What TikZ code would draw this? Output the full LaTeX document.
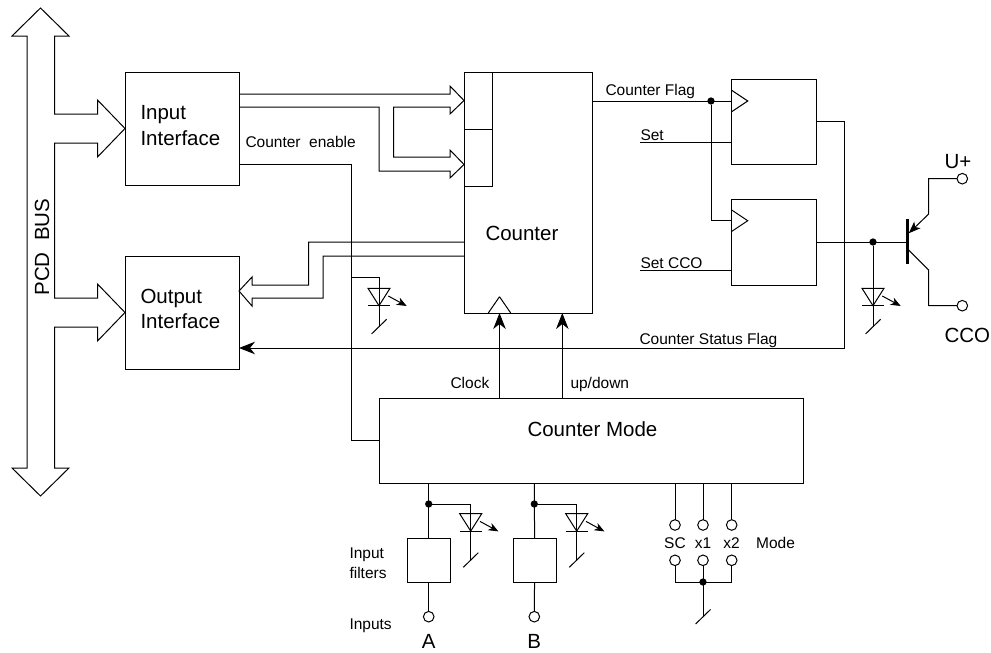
\documentclass[tikz,border=0pt]{standalone}
\usepackage{fontspec}
\setmainfont{Liberation Sans}
\usetikzlibrary{positioning, arrows.meta}

\newcommand{\bigtxt}{\fontsize{20.5}{25.5}\selectfont}
\newcommand{\smalltxt}{\fontsize{15.5}{20}\selectfont}

\tikzset{
  block/.style={rectangle, draw, inner sep=0pt, outer sep=0pt},
  iface/.style={block, minimum width=114pt, minimum height=113pt},
  ffbox/.style={block, minimum width=85.5pt, minimum height=85.7pt},
  filterbox/.style={block, minimum width=43pt, minimum height=43.3pt},
  biglbl/.style={inner sep=0pt, anchor=base west, font=\bigtxt, align=left},
  smalllbl/.style={inner sep=0pt, anchor=base west, font=\smalltxt, align=left},
  term/.style={circle, draw, fill=white, inner sep=0pt, outer sep=0pt, minimum size=10.6pt},
  dot/.style={circle, fill, inner sep=0pt, outer sep=0pt, minimum size=7.3pt},
  bigarrow/.style={-{Stealth[length=16pt, width=12.5pt, inset=5pt]}},
  led/.pic={
    \draw (-11,0) -- (11,0) -- (0,17.4) -- cycle;
    \draw (-11,17.4) -- (11,17.4);
    \draw[-{Stealth[length=10pt, width=8pt, inset=3pt]}] (9.3,7.7) -- (27.7,17.7);
  },
  gnd/.pic={\draw (-7.4,7.3) -- (7.6,-7.3);},
  clk/.pic={\draw (0,-11) -- (16.5,0) -- (0,11);}
}

\begin{document}
\begin{tikzpicture}[x=1pt, y=-1pt, line width=1pt, line join=miter]
\useasboundingbox (0,0) rectangle (991,653);

% Blocks
\node[iface] (input) at (182,128.5) {};
\node[iface, below=71pt of input] (output) {};
\node[block, minimum width=128pt, minimum height=241pt] (counter) at (528,192.5) {};
\node[block, minimum width=28.5pt, minimum height=57pt, anchor=north west] (rega) at (counter.north west) {};
\node[block, minimum width=28.5pt, minimum height=57pt, below=0pt of rega] (regb) {};
\node[block, minimum width=424pt, minimum height=85pt] (mode) at (591,440.5) {};
\node[ffbox] (ffa) at (774,122) {};
\node[ffbox, below=35pt of ffa] (ffb) {};
\node[filterbox] (filtera) at (428.7,560.6) {};
\node[filterbox, right=63pt of filtera] (filterb) {};

% Terminals and junctions
\node[term] (inputa) at (428.7,616.7) {};
\node[term] (inputb) at (534.3,616.7) {};
\node[term] (uplus) at (962.3,178.7) {};
\node[term] (cco) at (962.3,305.7) {};
\node[term] (sctop) at (675,525) {};
\node[term] (xatop) at (703,525) {};
\node[term] (xbtop) at (731.7,525) {};
\node[term] (scbot) at (675,560.3) {};
\node[term] (xabot) at (703,560.3) {};
\node[term] (xbbot) at (731.7,560.3) {};
\node[dot] (flagdot) at (711,101) {};
\node[dot] (outdot) at (873,242) {};
\node[dot] (dota) at (428.7,504) {};
\node[dot] (dotb) at (534.3,504) {};
\node[dot] (modedot) at (703,582) {};

% Fat arrows
\draw (40.5,8) -- (69,36) -- (54.5,36) -- (54.5,114) -- (97.5,114) -- (97.5,100) -- (input.west)
  -- (97.5,157) -- (97.5,143) -- (54.5,143) -- (54.5,298) -- (97.5,298) -- (97.5,284) -- (output.west)
  -- (97.5,341) -- (97.5,327) -- (54.5,327) -- (54.5,468) -- (69,468) -- (40.5,496) -- (12,468)
  -- (27,468) -- (27,36) -- (12,36) -- cycle;
\draw (input.east |- 0,94) -- (450,94) -- (450,86) -- (rega.west |- 0,100.5) -- (450,114) -- (450,107) -- (393.5,107)
  -- (393.5,157) -- (450,157) -- (450,150) -- (regb.west |- 0,164.5) -- (450,178) -- (450,171) -- (379,171)
  -- (379,107) -- (input.east |- 0,107);
\draw (counter.west |- 0,242) -- (308.5,242) -- (308.5,285) -- (252,285) -- (252,277) -- (output.east |- 0,291)
  -- (252,306) -- (252,298) -- (323,298) -- (323,256) -- (counter.west |- 0,256);

% Counter inputs
\draw (499.5,296.7) -- (488.3,313) (499.5,296.7) -- (510.7,313);
\draw[bigarrow] (mode.north -| 499.5,0) -- (counter.south -| 499.5,0);
\draw[bigarrow] (mode.north -| 562.3,0) -- (counter.south -| 562.3,0);

% Signals
\coordinate (ledtop) at (379,288.3);
\coordinate (ledgnd) at (379,326.6);
\draw (input.east |- 0,164) -- (351,164) -- (mode.west -| 351,0) -- (mode.west);
\draw (351,277) -- (379,277) -- (ledgnd);
\draw (counter.east |- flagdot) -- (ffa.west |- flagdot);
\draw (flagdot) |- (ffb.west |- 0,220.7);
\draw (640,142.3) -- (ffa.west |- 0,142.3);
\draw (640,270.3) -- (ffb.west |- 0,270.3);
\draw[bigarrow] (ffa.east |- 0,121) -- (844.7,121) -- (844.7,348) -- (output.east |- 0,348);

% Transistor
\coordinate (basept) at (907.3,242);
\draw (ffb.east |- basept) -- (basept);
\draw[line width=3pt] (907.3,219.3) -- (907.3,264);
\draw[-{Stealth[length=12pt, width=9pt, inset=3pt]}] (uplus) -- (928.7,178.7) -- (928.7,214) -- (908.7,233.3);
\draw (cco) -- (928.7,305.7) -- (928.7,270) -- (908.7,250);

% LEDs
\coordinate (gndout) at (873,326.6);
\coordinate (gnda) at (470.7,560);
\coordinate (gndb) at (576.7,560);
\coordinate (gndmode) at (703,616.7);
\draw (outdot) -- (gndout);
\draw (dota) -- (470.7,504) -- (gnda);
\draw (dotb) -- (576.7,504) -- (gndb);
\pic at (ledtop) {led};
\pic at (873,288.3) {led};
\pic at (470.7,513.7) {led};
\pic at (576.7,513.7) {led};
\pic at (ledgnd) {gnd};
\pic at (gndout) {gnd};
\pic at (gnda) {gnd};
\pic at (gndb) {gnd};
\pic at (gndmode) {gnd};

% Flip-flop clocks
\pic at (ffa.west |- flagdot) {clk};
\pic at (ffb.west |- 0,220.7) {clk};

% Input side
\draw (mode.south -| dota) -- (filtera);
\draw (filtera) -- (inputa);
\draw (mode.south -| dotb) -- (filterb);
\draw (filterb) -- (inputb);
\draw (mode.south -| sctop) -- (sctop);
\draw (mode.south -| xatop) -- (xatop);
\draw (mode.south -| xbtop) -- (xbtop);
\draw (scbot) |- (xbbot.south |- modedot) -- (xbbot);
\draw (xabot) -- (gndmode);

% Labels
\node[biglbl, rotate=90] (busl) at (49,296) {PCD\ \ BUS};
\node[biglbl] (inputl) at (140,119.3) {Input};
\node[biglbl] (inputlb) at (140,145) {Interface};
\node[biglbl] (outputl) at (140,303.3) {Output};
\node[biglbl] (outputlb) at (140,328.3) {Interface};
\node[biglbl] (counterl) at (485,240) {Counter};
\node[biglbl] (model) at (527,436.7) {Counter Mode};
\node[biglbl] (upl) at (944,168.3) {U+};
\node[biglbl] (ccol) at (944,342.7) {CCO};
\node[biglbl, anchor=base] (al) at (428.7,648) {A};
\node[biglbl, anchor=base] (bl) at (534.3,648) {B};
\node[smalllbl] (enl) at (245,147.7) {Counter\ \ enable};
\node[smalllbl] (flagl) at (605,95.3) {Counter Flag};
\node[smalllbl] (setl) at (640,140.5) {Set};
\node[smalllbl] (setccol) at (640,268.3) {Set CCO};
\node[smalllbl] (statl) at (639,344) {Counter Status Flag};
\node[smalllbl] (clockl) at (450,388.7) {Clock};
\node[smalllbl] (updl) at (570,388.7) {up/down};
\node[smalllbl, anchor=base] (scl) at (675,548.3) {SC};
\node[smalllbl, anchor=base] (xal) at (703,548.3) {x1};
\node[smalllbl, anchor=base] (xbl) at (731.5,548.3) {x2};
\node[smalllbl] (model2) at (755.7,548.3) {Mode};
\node[smalllbl] (filtl) at (349,558) {Input};
\node[smalllbl] (filtlb) at (349,578) {filters};
\node[smalllbl] (inpl) at (349,629) {Inputs};

\end{tikzpicture}
\end{document}
